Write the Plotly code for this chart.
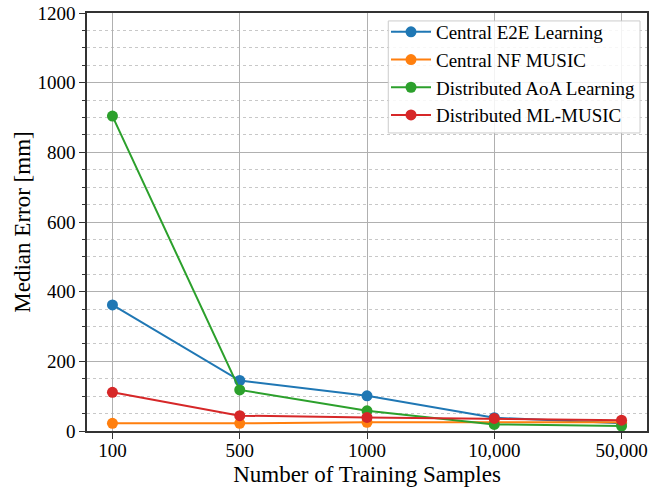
import plotly.graph_objects as go

categories = ["100", "500", "1000", "10,000", "50,000"]
central_e2e = [362, 145, 101, 38, 22]
central_nf_music = [22, 22, 25, 26, 25]
distributed_aoa = [904, 118, 58, 19, 14]
distributed_ml_music = [111, 44, 39, 36, 31]

series = [
    ("Central E2E Learning", central_e2e, "#1f77b4"),
    ("Central NF MUSIC", central_nf_music, "#ff7f0e"),
    ("Distributed AoA Learning", distributed_aoa, "#2ca02c"),
    ("Distributed ML-MUSIC", distributed_ml_music, "#d62728"),
]

fig = go.Figure()
for name, vals, col in series:
    fig.add_trace(go.Scatter(
        x=list(range(len(categories))), y=vals, name=name, mode="lines+markers",
        line=dict(color=col, width=2),
        marker=dict(color=col, size=11),
    ))

font_family = "Liberation Serif"
fig.update_layout(
    width=661, height=487,
    margin=dict(l=86.5, r=14, t=13, b=56),
    plot_bgcolor="white", paper_bgcolor="white",
    font=dict(family=font_family, size=19, color="#000"),
    showlegend=True,
    legend=dict(
        x=0.9875, y=1.0, xanchor="right", yanchor="top",
        bgcolor="rgba(0,0,0,0)", borderwidth=0,
        font=dict(family=font_family, size=19, color="#000"),
        tracegroupgap=0, itemwidth=40,
    ),
    shapes=[dict(
        type="rect", xref="paper", yref="paper",
        x0=0.538, x1=0.9875, y0=0.713, y1=0.981,
        line=dict(color="#cccccc", width=1),
        fillcolor="rgba(255,255,255,0.85)", layer="above",
    )],
)
fig.update_xaxes(
    automargin=False,
    range=[-0.2, 4.2],
    tickmode="array", tickvals=list(range(len(categories))), ticktext=categories,
    tickfont=dict(family=font_family, size=19, color="#000"),
    ticklabelstandoff=-5,
    showgrid=True, gridcolor="#b0b0b0", gridwidth=1,
    showline=True, linecolor="#333", linewidth=1.5, mirror=True,
    ticks="outside", ticklen=6, tickcolor="#333",
    zeroline=False,
    title=dict(text="Number of Training Samples", font=dict(family=font_family, size=23, color="#000"), standoff=14),
)
fig.update_yaxes(
    automargin=False,
    range=[0, 1200], dtick=200,
    tickfont=dict(family=font_family, size=19, color="#000"),
    showgrid=True, gridcolor="#b0b0b0", gridwidth=1,
    showline=True, linecolor="#333", linewidth=1.5, mirror=True,
    ticks="outside", ticklen=6, tickcolor="#333",
    zeroline=False,
    minor=dict(dtick=50, showgrid=True, gridcolor="#c8c8c8", griddash="dot",
               gridwidth=1, ticks="outside", ticklen=3, tickcolor="#333"),
    title=dict(text="Median Error [mm]", font=dict(family=font_family, size=23, color="#000"), standoff=0),
)

fig.write_html("out.html", config={"displayModeBar": False},
               post_script="document.body.style.margin='0';")
